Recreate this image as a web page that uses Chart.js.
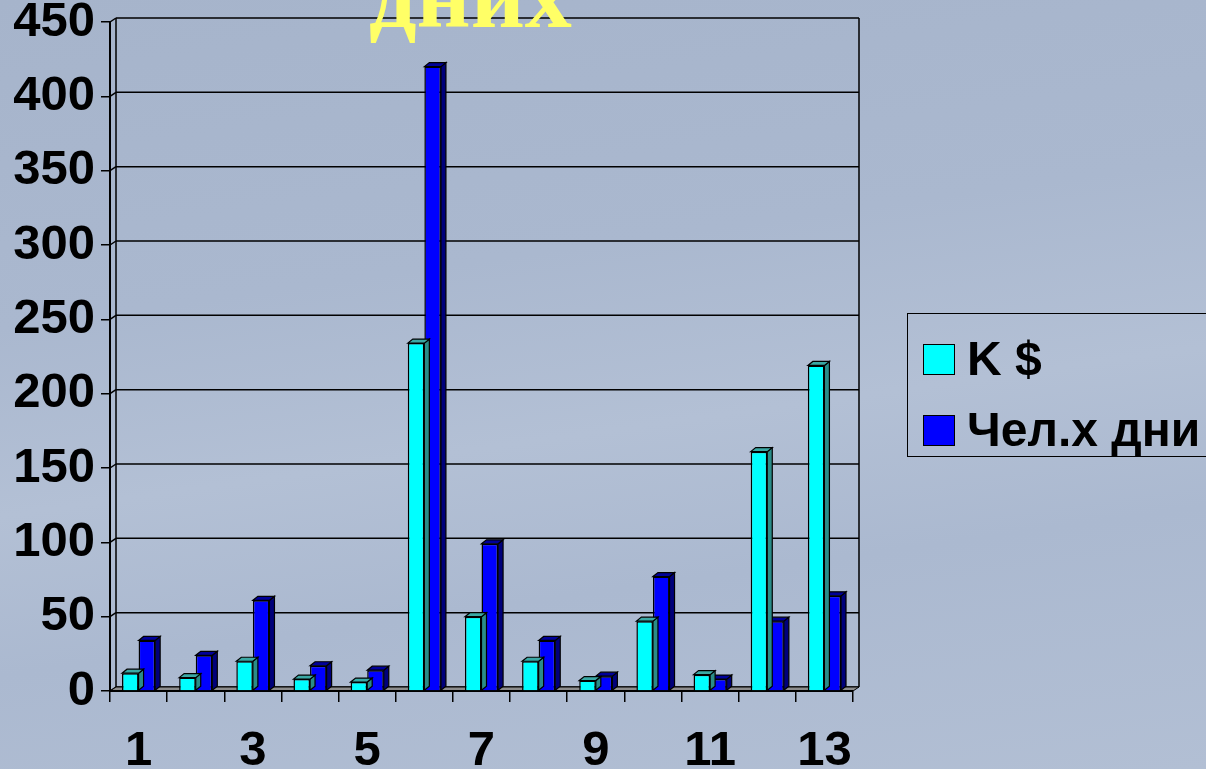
<!DOCTYPE html>
<html>
<head>
<meta charset="utf-8">
<script src="https://cdn.jsdelivr.net/npm/chart.js@4.4.1/dist/chart.umd.min.js"></script>
<style>
  html, body { margin: 0; padding: 0; }
  body {
    width: 1206px; height: 769px; overflow: hidden; position: relative;
    background: linear-gradient(172deg, #a6b4cb 0%, #aab8cf 35%, #b3c0d5 55%, #abb9d0 72%, #b2bfd4 100%);
    font-family: "Liberation Sans", Arial, sans-serif;
  }
  #wrap { position: absolute; left: 0; top: 0; width: 1206px; height: 769px; }
  #title {
    position: absolute; left: 369px; top: -52px; margin: 0;
    font: bold 94px/94px "Liberation Serif", "Times New Roman", serif;
    color: #ffff66; white-space: nowrap; z-index: 2;
  }
  #legend {
    position: absolute; left: 907px; top: 313px; width: 330px; height: 144px;
    border: 1.5px solid #000; box-sizing: border-box; z-index: 2;
  }
  .item { position: absolute; left: 15px; display: flex; align-items: center;
    font: bold 48px/48px "Liberation Sans", Arial, sans-serif; color: #000; white-space: nowrap; }
  .sw { width: 32px; height: 31px; border: 1.5px solid #000; box-sizing: border-box; margin-right: 12px; }
</style>
</head>
<body>
<div id="wrap"><canvas id="c" width="1206" height="769"></canvas></div>
<div id="title">дних</div>
<div id="legend"></div>
<script>
// ---- data ----
const categories = ['1','2','3','4','5','6','7','8','9','10','11','12','13'];
const seriesNames = ['K $', 'Чел.х дни'];
const kUsd    = [12, 9, 20, 8, 6, 234, 50, 20, 7, 47, 11, 161, 219];
const manDays = [34, 24, 61, 17, 14, 420, 99, 34, 10, 77, 8, 47, 64];
const yMax = 450, yStep = 50;

const frontColors = ['#00ffff', '#0000ff'];
const topColors   = ['#3aa8a4', '#000099'];
const sideColors  = ['#2a8c88', '#00007a'];
const DX = 5, DY = 4;     // bar depth
const WX = 6, WY = 4;     // wall offset

function poly(ctx, pts, fill) {
  ctx.beginPath();
  ctx.moveTo(pts[0][0], pts[0][1]);
  for (let i = 1; i < pts.length; i++) ctx.lineTo(pts[i][0], pts[i][1]);
  ctx.closePath();
  if (fill) { ctx.fillStyle = fill; ctx.fill(); }
  ctx.stroke();
}

const wallPlugin = {
  id: 'wall',
  beforeDatasetsDraw(chart) {
    const ctx = chart.ctx, a = chart.chartArea, ys = chart.scales.y;
    ctx.save();
    ctx.strokeStyle = '#000';
    ctx.lineWidth = 1.5;
    for (let v = 0; v <= yMax; v += yStep) {
      const py = ys.getPixelForValue(v);
      ctx.beginPath();
      ctx.moveTo(a.left + WX, py - WY);
      ctx.lineTo(a.right + WX, py - WY);
      ctx.stroke();
      ctx.beginPath();
      ctx.moveTo(a.left, py);
      ctx.lineTo(a.left + WX, py - WY);
      ctx.stroke();
    }
    ctx.beginPath();
    ctx.moveTo(a.left + WX, a.top - WY); ctx.lineTo(a.left + WX, a.bottom - WY);
    ctx.moveTo(a.right + WX, a.top - WY); ctx.lineTo(a.right + WX, a.bottom - WY);
    ctx.stroke();
    ctx.lineWidth = 1;
    poly(ctx, [[a.left, a.bottom], [a.left + WX, a.bottom - WY], [a.right + WX, a.bottom - WY], [a.right, a.bottom]], '#8c8c8c');
    ctx.lineWidth = 2;
    ctx.beginPath();
    ctx.moveTo(a.left, a.bottom); ctx.lineTo(a.right, a.bottom);
    ctx.moveTo(a.left, a.top); ctx.lineTo(a.left, a.bottom);
    ctx.stroke();
    ctx.restore();
  },
  afterDatasetDraw(chart, args) {
    const ctx = chart.ctx, i = args.index, meta = args.meta;
    ctx.save();
    ctx.strokeStyle = '#000';
    ctx.lineWidth = 1.2;
    meta.data.forEach(el => {
      const p = el.getProps(['x', 'y', 'base', 'width'], true);
      const l = p.x - p.width / 2, r = p.x + p.width / 2;
      poly(ctx, [[r, p.y], [r + DX, p.y - DY], [r + DX, p.base - DY], [r, p.base]], sideColors[i]);
      poly(ctx, [[l, p.y], [l + DX, p.y - DY], [r + DX, p.y - DY], [r, p.y]], topColors[i]);
    });
    ctx.restore();
  }
};

const tickFont = { family: '"Liberation Sans", Arial, sans-serif', size: 49, weight: 'bold', lineHeight: 0.6 };

new Chart(document.getElementById('c'), {
  type: 'bar',
  data: {
    labels: categories,
    datasets: [
      { label: seriesNames[0], data: kUsd, backgroundColor: frontColors[0], borderColor: '#000', borderWidth: 1.5,
        categoryPercentage: 0.58, barPercentage: 1.0 },
      { label: seriesNames[1], data: manDays, backgroundColor: frontColors[1], borderColor: '#000', borderWidth: 1.5,
        categoryPercentage: 0.58, barPercentage: 1.0 }
    ]
  },
  options: {
    responsive: false,
    animation: false,
    events: [],
    layout: { padding: { top: 22, right: 353, bottom: 0, left: 0 } },
    plugins: { legend: { display: false }, title: { display: false }, tooltip: { enabled: false } },
    scales: {
      x: {
        offset: true,
        grid: { offset: true, drawOnChartArea: false, drawTicks: true, tickLength: 11, color: '#000', lineWidth: 1.5 },
        border: { display: true, color: '#000', width: 2 },
        ticks: {
          autoSkip: false, maxRotation: 0, padding: 35, color: '#000', font: tickFont,
          callback: (v, i) => (i % 2 === 0 ? categories[i] : '')
        },
        afterFit: s => { s.height = 78; }
      },
      y: {
        min: 0, max: yMax,
        grid: { drawOnChartArea: false, drawTicks: true, tickLength: 9, color: '#000', lineWidth: 1.5 },
        border: { display: true, color: '#000', width: 2 },
        ticks: { stepSize: yStep, padding: 6, color: '#000', font: tickFont },
        afterFit: s => { s.width = 110; }
      }
    }
  },
  plugins: [wallPlugin]
});

const lg = document.getElementById('legend');
seriesNames.forEach((n, i) => {
  const it = document.createElement('div');
  it.className = 'item';
  it.style.top = (i === 0 ? 21 : 92) + 'px';
  const sw = document.createElement('div');
  sw.className = 'sw';
  sw.style.background = frontColors[i];
  const tx = document.createElement('span');
  tx.textContent = n;
  it.appendChild(sw); it.appendChild(tx);
  lg.appendChild(it);
});
</script>
</body>
</html>
